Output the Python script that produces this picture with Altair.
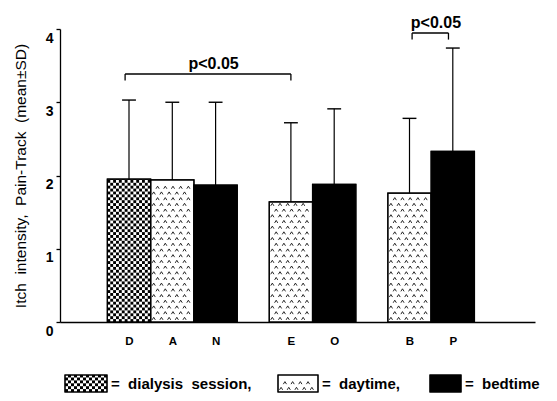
import altair as alt
import pandas as pd
import numpy as np

# ---------------- data ----------------
categories = ["D", "A", "N", "E", "O", "B", "P"]
patterns = ["checker", "dots", "solid", "dots", "solid", "dots", "solid"]
groups = [0, 0, 0, 1, 1, 2, 2]
means = [1.95, 1.94, 1.87, 1.64, 1.88, 1.76, 2.33]
sds = [1.08, 1.06, 1.13, 1.08, 1.03, 1.02, 1.41]
yticks = [0, 1, 2, 3, 4]
NB = "\u00a0"
y_title = f"Itch{NB} intensity,{NB} Pain-Track{NB} (mean±SD)"
sig_label = "p<0.05"
bracket_pairs = [("D", "E"), ("B", "P")]
legend_patterns = ["checker", "dots", "solid"]
legend_labels = [f"={NB} dialysis{NB} session,", f"={NB} daytime,", f"={NB} bedtime"]

# ---------------- layout (pixels -> data units) ----------------
FONT = "Liberation Sans"
PX_SLOT = 43.3          # px per bar slot
PX_UNIT = 73.25         # px per y unit
W, H = 475, 293
GAP = 32 / PX_SLOT
XMIN = -69 / PX_SLOT
XMAX = XMIN + W / PX_SLOT

pos = [i + g * GAP for i, g in enumerate(groups)]
cidx = {c: i for i, c in enumerate(categories)}

xs = alt.Scale(domain=[XMIN, XMAX], nice=False, zero=False)
ys = alt.Scale(domain=[0, 4], nice=False, zero=False)

bars = pd.DataFrame({
    "cat": categories, "x": [p - 0.5 for p in pos], "x2": [p + 0.5 for p in pos],
    "c": pos, "mean": means, "top": [m + s for m, s in zip(means, sds)],
    "fill": ["black" if p == "solid" else "white" for p in patterns],
    "cl": [p - 0.16 for p in pos], "cr": [p + 0.16 for p in pos],
})

CELL_X = 2.9 / PX_SLOT
CELL_Y = 2.9 / PX_UNIT


def checker(x0, x1, y0, y1):
    nx = max(1, int(round((x1 - x0) / CELL_X)))
    cx = (x1 - x0) / nx
    out = []
    j = 0
    y = y0
    while y < y1 - 1e-9:
        ytop = min(y + CELL_Y, y1)
        for i in range(nx):
            if (i + j) % 2 == 0:
                out.append({"x": x0 + i * cx, "x2": x0 + (i + 1) * cx, "y": y, "y2": ytop})
        y += CELL_Y
        j += 1
    return out


DX = 7.7 / PX_SLOT
DY = 5.7 / PX_UNIT
MX = 2.5 / PX_SLOT
MY = 2.5 / PX_UNIT


def dots(x0, x1, y0, y1):
    out = []
    j = 0
    y = y0 + DY * 0.6
    while y < y1 - MY:
        off = (DX / 2) if j % 2 else 0
        x = x0 + DX * 0.4 + off
        while x < x1 - MX:
            out.append({"x": x, "y": y})
            x += DX
        y += DY
        j += 1
    return out


chk_rows, dot_rows = [], []
for p, c, m in zip(patterns, pos, means):
    if p == "checker":
        chk_rows += checker(c - 0.5, c + 0.5, 0, m)
    elif p == "dots":
        dot_rows += dots(c - 0.5, c + 0.5, 0, m)

# legend boxes (layout positions, px converted to data units)
leg_x0 = [(65 - 129) / PX_SLOT, (278 - 129) / PX_SLOT, (430 - 129) / PX_SLOT]
leg_w = [42 / PX_SLOT, 40 / PX_SLOT, 31 / PX_SLOT]
leg_ytop = (322 - 375) / PX_UNIT
leg_ybot = (322 - 392) / PX_UNIT
leg_text_y = (322 - 389) / PX_UNIT
leg = pd.DataFrame({
    "x": leg_x0, "x2": [a + b for a, b in zip(leg_x0, leg_w)],
    "y": [leg_ybot] * 3, "y2": [leg_ytop] * 3,
    "tx": [a + b + 4 / PX_SLOT for a, b in zip(leg_x0, leg_w)], "ty": [leg_text_y] * 3,
    "label": legend_labels,
    "fill": ["black" if p == "solid" else "white" for p in legend_patterns],
})
for p, a, b in zip(legend_patterns, leg["x"], leg["x2"]):
    if p == "checker":
        chk_rows += checker(a, b, leg_ybot, leg_ytop)
    elif p == "dots":
        dot_rows += dots(a, b, leg_ybot, leg_ytop)

chk = pd.DataFrame(chk_rows)
dt = pd.DataFrame(dot_rows)

# significance brackets
br_y = [(322 - 74) / PX_UNIT, (322 - 33) / PX_UNIT]
br_off = [(-0.09, 0.0), (0.06, -0.1)]
br_rows, brv_rows, brt_rows = [], [], []
for (a, b), yb, (oa, ob) in zip(bracket_pairs, br_y, br_off):
    xa, xb = pos[cidx[a]] + oa, pos[cidx[b]] + ob
    br_rows.append({"x": xa, "x2": xb, "y": yb})
    brv_rows.append({"x": xa, "y": yb, "y2": yb - 0.09})
    brv_rows.append({"x": xb, "y": yb, "y2": yb - 0.09})
    brt_rows.append({"x": (xa + xb) / 2 + 0.13, "y": yb + 0.068, "t": sig_label})
brh = pd.DataFrame(br_rows)
brv = pd.DataFrame(brv_rows)
brt = pd.DataFrame(brt_rows)

# ---------------- chart ----------------
expr = ""
for p, c in zip(pos, categories):
    expr += f"abs(datum.value - {p:.5f}) < 0.001 ? '{c}' : "
expr += "''"

x_axis = alt.Axis(values=pos, labelExpr=expr, tickSize=0, domainColor="black",
                  domainWidth=1.3, labelFont=FONT, labelFontSize=11.5,
                  labelFontWeight="bold", labelColor="black", labelPadding=13,
                  labelFlush=False, grid=False, title=None)
y_axis = alt.Axis(values=yticks, format="d", tickSize=4, tickColor="black", tickWidth=1.3,
                  domainColor="black", domainWidth=1.3, labelOffset=9, labelPadding=3,
                  labelFont=FONT, labelFontSize=14, labelFontWeight="bold",
                  labelColor="black", grid=False, title=y_title, titleFont=FONT,
                  titleFontSize=15.5, titleFontWeight="normal", titleColor="black",
                  titlePadding=17)


def X(f):
    return alt.X(f, scale=xs, axis=x_axis)


def Y(f):
    return alt.Y(f, scale=ys, axis=y_axis)


base_bars = alt.Chart(bars).mark_rect(stroke="black", strokeWidth=1.2).encode(
    x=X("x:Q"), x2="x2:Q", y=Y("zero:Q"), y2="mean:Q",
    fill=alt.Fill("fill:N", scale=None),
).transform_calculate(zero="0")

leg_box = alt.Chart(leg).mark_rect(stroke="black", strokeWidth=1.1).encode(
    x=X("x:Q"), x2="x2:Q", y=Y("y:Q"), y2="y2:Q",
    fill=alt.Fill("fill:N", scale=None))

chk_layer = alt.Chart(chk).mark_rect(fill="black", strokeWidth=0).encode(
    x=X("x:Q"), x2="x2:Q", y=Y("y:Q"), y2="y2:Q")

dot_layer = alt.Chart(dt).mark_point(shape="M-1,0.8L0,-0.8L1,0.8", filled=False,
                                     color="#111111", strokeWidth=0.9, size=10,
                                     opacity=1).encode(
    x=X("x:Q"), y=Y("y:Q"))

outline = alt.Chart(bars).mark_rect(fillOpacity=0, stroke="black", strokeWidth=1.2).encode(
    x=X("x:Q"), x2="x2:Q", y=Y("zero:Q"), y2="mean:Q",
).transform_calculate(zero="0")

err = alt.Chart(bars).mark_rule(color="black", strokeWidth=1.2).encode(
    x=X("c:Q"), y=Y("mean:Q"), y2="top:Q")

caps = alt.Chart(bars).mark_rule(color="black", strokeWidth=1.4).encode(
    x=X("cl:Q"), x2="cr:Q", y=Y("top:Q"))

bh = alt.Chart(brh).mark_rule(color="black", strokeWidth=1.3).encode(
    x=X("x:Q"), x2="x2:Q", y=Y("y:Q"))
bv = alt.Chart(brv).mark_rule(color="black", strokeWidth=1.3).encode(
    x=X("x:Q"), y=Y("y:Q"), y2="y2:Q")
bt = alt.Chart(brt).mark_text(font=FONT, fontSize=16, fontWeight="bold", color="black",
                              align="center", baseline="alphabetic").encode(
    x=X("x:Q"), y=Y("y:Q"), text="t:N")

leg_out = alt.Chart(leg).mark_rect(fillOpacity=0, stroke="black", strokeWidth=1.1).encode(
    x=X("x:Q"), x2="x2:Q", y=Y("y:Q"), y2="y2:Q")
leg_txt = alt.Chart(leg).mark_text(font=FONT, fontSize=15, fontWeight="bold", color="black",
                                   align="left", baseline="alphabetic").encode(
    x=X("tx:Q"), y=Y("ty:Q"), text="label:N")

chart = alt.layer(base_bars, leg_box, chk_layer, dot_layer, outline, err, caps, bh, bv, bt,
                  leg_out, leg_txt).properties(
    width=W, height=H,
    autosize=alt.AutoSizeParams(type="none"),
    padding={"left": 52, "top": 21, "right": 14, "bottom": 71},
    background="white",
).configure_view(stroke=None)

chart.save("out.html", embed_options={"renderer": "svg", "actions": False})
